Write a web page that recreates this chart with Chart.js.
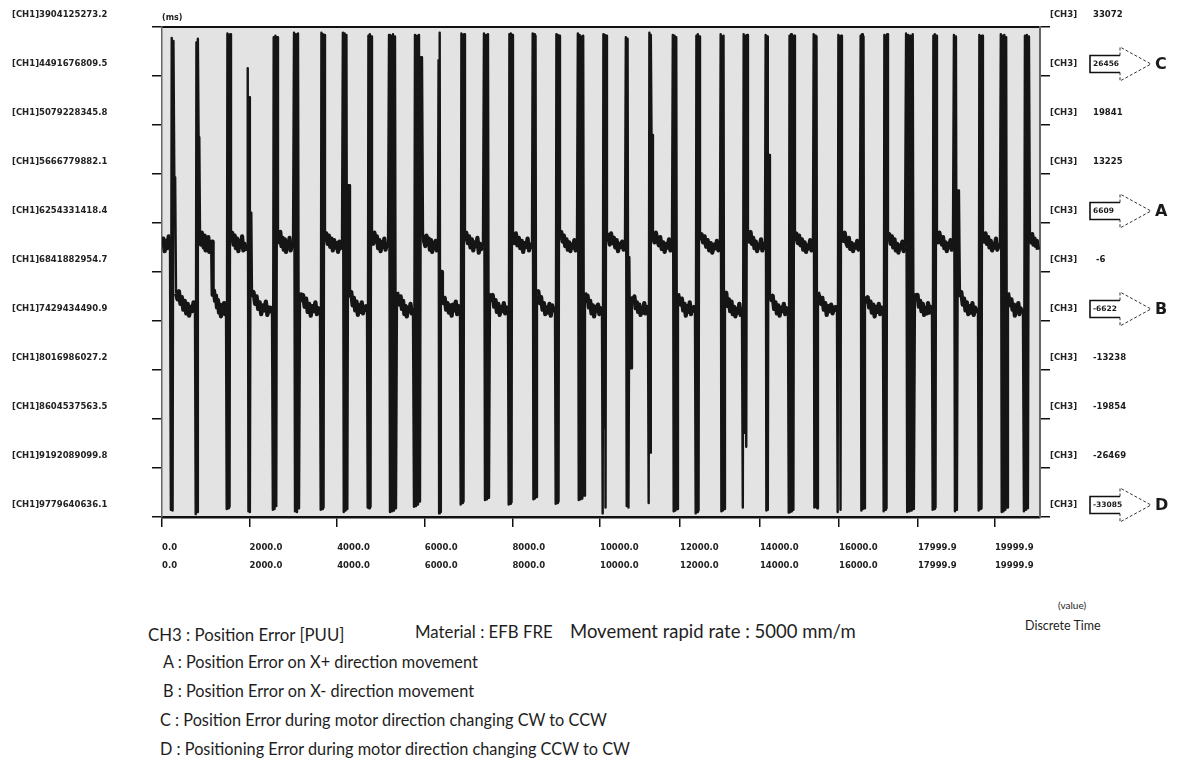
<!DOCTYPE html>
<html>
<head>
<meta charset="utf-8">
<title>CH3 Position Error</title>
<script src="https://cdn.jsdelivr.net/npm/chart.js@4.4.1/dist/chart.umd.min.js"></script>
<style>
  body { margin: 0; background: #fff; width: 1177px; height: 769px; overflow: hidden; position: relative;
         font-family: Lato, "Open Sans", sans-serif; color: #1e1e1e; }
  #wrap { position: absolute; left: 0; top: 0; width: 1177px; height: 590px; }
  .txt { position: absolute; white-space: nowrap; line-height: 1; }
</style>
</head>
<body>
<div id="wrap"><canvas id="chart" width="1177" height="590"></canvas></div>

<div class="txt" style="left:1058px;top:600px;font-size:10px">(value)</div>
<div class="txt" style="left:1025px;top:620px;font-size:12.5px">Discrete Time</div>

<div class="txt" style="left:148px;top:627px;font-size:16.8px">CH3 : Position Error [PUU]</div>
<div class="txt" style="left:415px;top:624px;font-size:16.8px">Material : EFB FRE</div>
<div class="txt" style="left:570px;top:622px;font-size:18.5px">Movement rapid rate : 5000 mm/m</div>
<div class="txt" style="left:163px;top:654px;font-size:16.3px">A : Position Error on X+ direction movement</div>
<div class="txt" style="left:163px;top:683px;font-size:16.3px">B : Position Error on X- direction movement</div>
<div class="txt" style="left:160px;top:712px;font-size:16.3px">C : Position Error during motor direction changing CW to CCW</div>
<div class="txt" style="left:160px;top:741px;font-size:16.3px">D : Positioning Error during motor direction changing CCW to CW</div>

<script>
// ---- axis labels ----
const ch1Ticks = [3904125273.2, 4491676809.5, 5079228345.8, 5666779882.1, 6254331418.4, 6841882954.7,
                  7429434490.9, 8016986027.2, 8604537563.5, 9192089099.8, 9779640636.1];
const ch3Ticks = [33072, 26456, 19841, 13225, 6609, -6, -6622, -13238, -19854, -26469, -33085];
const markValues = [26456, 6609, -6622, -33085];
const markLetters = ['C', 'A', 'B', 'D'];
// discrete time axis (ms), where each printed label sits on the trace
const xTickAt = [0, 2000, 4000, 6000, 8000, 10000, 11826, 13652, 15456, 17259, 19017];
const xTickText = ['0.0', '2000.0', '4000.0', '6000.0', '8000.0', '10000.0', '12000.0', '14000.0', '16000.0', '17999.9', '19999.9'];
const xEndMs = 20046;

// ---- CH3 trace (PUU) ----
// direction changes: start / end time of each sweep burst (ms)
const edgeStart = [183, 753, 1142, 1461, 1941, 2511, 2991, 3607, 4109, 4680, 5160, 5730, 6301,
                   6803, 7328, 7899, 8447, 8972, 9474, 10045, 10570, 11095, 11643, 12168, 12739,
                   13241, 13766, 14292, 14862, 15410, 15935, 16460, 16963, 17579, 18058, 18629,
                   19131, 19656];
const edgeEnd = [320, 868, 1164, 1575, 2055, 2648, 3151, 3721, 4292, 4794, 5365, 5959, 6392,
                 6917, 7488, 8013, 8561, 9086, 9657, 10159, 10730, 11209, 11780, 12283, 12853,
                 13378, 13880, 14451, 14976, 15524, 16049, 16575, 17191, 17693, 18218, 18743,
                 19314, 19816];
// values swept through during each burst
const edgeSweep = [
  [-32100, 31600, -32200, 31200, 12800, 12800],
  [-32700, 31000, -32400, 31500, 18200, 18200],
  [3000, -3100],
  [-32000, 32200, -31900, 32000, -31700, 32100],
  [27500, -32300, 23600, -32400, 8000, 8000],
  [-32100, 31700, -32000, 31900, -31600, 31700],
  [32300, -32300, 32100, -32400, 32200, -31900],
  [-32100, 32300, -32000, 32100, -31800, 32000],
  [32300, -32400, 32200, -32200, 32000, -32000, 11700, 11700],
  [-31800, 31900, -31900, 32100, -31700, 31800],
  [32000, -32400, 31900, -32300, 32100, -32200, 31800, -31900],
  [-31700, 32000, -31600, 31900, -31400, 32000, -31000, 29000, 29000],
  [28600, -32600, 32300, -32400, 0, 0],
  [-31400, 32200, -31200, 32000, -31000, 32100],
  [32200, -30800, 32000, -30700, 32100, -30500],
  [-31400, 32100, -31300, 32200, -31100, 32000],
  [32200, -30700, 32100, -30600, 31900, -30400],
  [-31300, 32100, -31200, 32000, -31000, 31900],
  [32200, -30800, 32000, -30700, 31800, -30600, 31900, -30200],
  [-32600, 32100, -21000, 32000, -31800, 31900],
  [31700, -31600, 31500, -31800, 2000, -13000, -13000],
  [-31200, 32300, -24400, 32000, 18500, 18500],
  [32000, -32300, 31900, -32200, 31700, -32000],
  [-32600, 31900, -32400, 32100, -32200, 31800],
  [32100, -32300, 31800, -32200, 31900, -32000],
  [-31800, 32100, -21700, 31900, -23600, 32000],
  [32000, -32200, 31800, -32100, 15800, 15800],
  [-32500, 31900, -32400, 32100, -32300, 31800, -32100, 31900],
  [32100, -31800, 31900, -31700, 31800, -31900],
  [-32400, 32000, -11600, 31800, -32100, 31900],
  [31900, -32200, 32100, -32000, 31800, -31900],
  [-32300, 32000, -32100, 31900, -31900, 32100],
  [32200, -32400, 32000, -32300, 31900, -32200, 32100, -32000],
  [-32100, 31900, -32000, 32100, -31800, 31900],
  [32000, -32300, 31800, -32100, 11000, 11000],
  [-32200, 32000, -32000, 31800, -31900, 31900],
  [32100, -32400, 31900, -32300, 32000, -32100, 31700, -31800],
  [-32300, 31900, -32100, 32000, -31900, 31800]
];
// noisy levels held between bursts (upper = X+ run, lower = X- run)
const plateauLevels = [
  [3500, 4500, 2800, 4200, 3200, 4800, 3000],
  [-2900, -3700, -2600, -4300, -3400, -5100, -3900, -5600, -4300, -5900, -4700, -5300, -4100, -5500],
  [4800, 3700, 5300, 4200, 3300, 4900, 2900, 4400, 3500, 4700, 2700, 3900, 3100, 4100],
  [-3000, -2500, -3900, -3200, -4800, -3800, -5500, -4400, -6000, -4700, -5400, -4200, -5700, -4000],
  [4600, 5300, 3700, 4900, 3200, 4500, 2800, 4200, 3400, 4800, 2900, 3800, 3100, 3600],
  [-3400, -2700, -4300, -3300, -5000, -4100, -5700, -4500, -5200, -4000, -5800, -4800, -5300, -4600],
  [4900, 4000, 5400, 3500, 4600, 3000, 4400, 2700, 4100, 3300, 4600, 2900, 3700, 3200],
  [-2800, -3800, -3100, -4700, -3600, -5400, -4300, -5900, -4600, -5300, -4100, -5700, -4900, -5200],
  [4200, 5200, 3800, 4900, 3400, 4500, 2900, 4300, 3300, 3900, 2700, 4100, 3200, 3600],
  [-3300, -2700, -4500, -3500, -5200, -4000, -5800, -4500, -5400, -4100, -5600, -4700, -5100, -4400],
  [4700, 3800, 5300, 4100, 4800, 3200, 4300, 2800, 4000, 3400, 4500, 3000, 3700, 3300],
  [-2700, -3500, -4400, -3300, -5000, -3900, -5700, -4600, -6000, -4800, -5300, -4300, -5600, -4900],
  [5000, 4100, 3500, 4900, 3800, 4500, 3000, 4300, 2700, 3900, 3300, 4200, 2900, 3500],
  [-3400, -4200, -3500, -5100, -4200, -5500, -4500, -5900, -4400, -5200, -4000, -5700, -4600, -5000],
  [4300, 5300, 3900, 4800, 3300, 4400, 2900, 4000, 3500, 4600, 2600, 3800, 3100, 3400],
  [-2900, -3800, -3100, -4700, -3800, -5400, -4300, -5800, -4700, -5300, -4200, -5600, -4800, -5100],
  [4800, 3900, 5200, 3600, 4600, 3200, 4200, 2700, 3900, 3400, 4500, 2900, 3700, 3100],
  [-3200, -2600, -4200, -3400, -5100, -4200, -5700, -4800, -5500, -4300, -5900, -4500, -5200, -4700],
  [4500, 5400, 4100, 4900, 3500, 4400, 3000, 4000, 2800, 3700, 3300, 4300, 2900, 3600],
  [-2800, -3900, -3200, -4800, -3900, -5600, -4500, -6000, -4700, -5200, -4400, -5700, -4900, -5300],
  [4200, 5000, 3700, 5200, 3900, 4600, 3300, 4300, 2800, 3800, 3400, 4100, 3000, 3300],
  [-3300, -4000, -3300, -4900, -4100, -5400, -4400, -5800, -4900, -5500, -4200, -5600, -4700, -5000],
  [4900, 4000, 5300, 4300, 3600, 4700, 3100, 4000, 2700, 3800, 3300, 4400, 2900, 3500],
  [-2900, -3700, -4400, -3600, -5200, -4300, -5900, -4600, -5400, -4100, -5700, -4800, -5200, -4500],
  [4400, 5100, 4000, 4800, 3400, 4300, 2900, 3900, 2600, 3700, 3200, 4200, 2900, 3400],
  [-3400, -2800, -4600, -3700, -5300, -4000, -5700, -4700, -6000, -5000, -5500, -4300, -5800, -4800],
  [4800, 4100, 5400, 3800, 4600, 3200, 4100, 2800, 3700, 3300, 4400, 2900, 3800, 3000],
  [-3000, -3800, -3200, -5000, -4100, -5600, -4500, -5900, -4800, -5300, -4300, -5700, -4900, -5200],
  [4300, 5200, 3900, 4900, 3600, 4400, 3000, 4000, 2700, 3600, 3200, 4300, 2900, 3500],
  [-2700, -3400, -4300, -3500, -5100, -4200, -5800, -4600, -5300, -4400, -5600, -4800, -5100, -4500],
  [5000, 4200, 5300, 4000, 3500, 4600, 3100, 3900, 2800, 3700, 3300, 4200, 3000, 3400],
  [-3300, -4000, -3400, -4800, -4000, -5500, -4400, -6000, -4700, -5400, -4300, -5700, -4800, -5300],
  [4700, 5100, 3800, 4800, 3300, 4400, 2900, 3800, 2600, 3600, 3200, 4100, 2800, 3300],
  [-2900, -3500, -3100, -4700, -3900, -5300, -4300, -5800, -4900, -5600, -4200, -5500, -4700, -5200],
  [4600, 4000, 5300, 4300, 3700, 4700, 3200, 4000, 2800, 3800, 3400, 4300, 3000, 3500],
  [-3400, -2700, -4400, -3600, -5200, -4100, -5700, -4600, -5500, -4200, -5800, -4800, -5300, -4900],
  [4900, 4100, 5200, 3800, 4700, 3300, 4200, 2900, 3800, 3300, 4500, 3000, 3600, 3200],
  [-2800, -3700, -4500, -3700, -5100, -4400, -5900, -4500, -5400, -4200, -5700, -4900, -5300, -5000],
  [4800, 4000, 5100, 3700, 4500, 3500, 4200, 3000]
];
const traceEndMs = 19999.9;

// lay the held levels and the bursts out along the time axis
function buildTrace() {
  const pts = [];
  let from = 0;
  for (let k = 0; k < plateauLevels.length; k++) {
    const to = k < edgeStart.length ? edgeStart[k] : traceEndMs;
    const lv = plateauLevels[k];
    lv.forEach((v, i) => pts.push({x: from + (to - from) * i / (lv.length - 1), y: v}));
    if (k < edgeStart.length) {
      const sw = edgeSweep[k];
      const a = edgeStart[k], b = edgeEnd[k];
      sw.forEach((v, i) => pts.push({x: a + (b - a) * (i + 1) / (sw.length + 1), y: v}));
      from = b;
    }
  }
  return pts;
}

const tickFont = {family: '"DejaVu Sans", sans-serif', size: 8.5, weight: 'bold'};

const plotBackground = {
  id: 'plotBackground',
  beforeDraw(chart) {
    const {ctx, chartArea: a} = chart;
    ctx.save();
    ctx.fillStyle = '#e3e3e3';
    ctx.fillRect(a.left, a.top, a.right - a.left, a.bottom - a.top);
    ctx.restore();
  }
};

// CH3 values beside the right axis, with the A-D callout arrows
const ch3Values = {
  id: 'ch3Values',
  afterDraw(chart) {
    const {ctx} = chart;
    const s = chart.scales.yR;
    const x0 = s.left + 50;
    ctx.save();
    ctx.textBaseline = 'middle';
    ch3Ticks.forEach(v => {
      const y = s.getPixelForValue(v) - 12;
      const m = markValues.indexOf(v);
      ctx.fillStyle = '#1a1a1a';
      if (m < 0) {
        ctx.font = 'bold 8.5px "DejaVu Sans"';
        ctx.textAlign = 'left';
        ctx.fillText(String(v), x0 + (String(v).length < 4 ? 6 : 3), y);
        return;
      }
      // arrow body
      ctx.setLineDash([]);
      ctx.strokeStyle = '#111';
      ctx.lineWidth = 1.6;
      ctx.beginPath();
      ctx.moveTo(x0 + 30, y - 8.5);
      ctx.lineTo(x0, y - 8.5);
      ctx.lineTo(x0, y + 8.5);
      ctx.lineTo(x0 + 30, y + 8.5);
      ctx.stroke();
      // arrow head
      ctx.setLineDash([3, 2]);
      ctx.strokeStyle = '#333';
      ctx.lineWidth = 1;
      ctx.beginPath();
      ctx.moveTo(x0 + 30, y - 8.5);
      ctx.lineTo(x0 + 30, y - 17);
      ctx.lineTo(x0 + 61, y);
      ctx.lineTo(x0 + 30, y + 17);
      ctx.lineTo(x0 + 30, y + 8.5);
      ctx.stroke();
      ctx.setLineDash([]);
      ctx.font = 'bold 7.5px "DejaVu Sans"';
      ctx.textAlign = 'left';
      ctx.fillText(String(v), x0 + 3, y);
      ctx.font = 'bold 16px "DejaVu Sans"';
      ctx.fillText(markLetters[m], x0 + 65, y + 1);
    });
    ctx.restore();
  }
};

// held levels are drawn heavier than the sweep bursts, like the scope trace
const heldLevel = ctx => Math.abs(ctx.p0.parsed.y) < 8000 && Math.abs(ctx.p1.parsed.y) < 8000;

new Chart(document.getElementById('chart'), {
  type: 'line',
  data: {
    datasets: [{
      label: 'CH3',
      data: buildTrace(),
      xAxisID: 'x',
      yAxisID: 'yR',
      borderColor: '#151515',
      borderWidth: 2.3,
      borderJoinStyle: 'round',
      pointRadius: 0,
      tension: 0,
      segment: {borderWidth: ctx => heldLevel(ctx) ? 4.2 : 2.4}
    }]
  },
  options: {
    responsive: false,
    animation: false,
    parsing: false,
    normalized: true,
    devicePixelRatio: 1,
    layout: {padding: {left: 12, right: 0, top: 0, bottom: 0}},
    plugins: {legend: {display: false}, tooltip: {enabled: false}},
    scales: {
      x: {
        type: 'linear', position: 'bottom', min: 0, max: xEndMs,
        afterBuildTicks: s => { s.ticks = xTickAt.map(v => ({value: v})); },
        afterFit: s => { s.height = 73; },
        ticks: {
          autoSkip: false, maxRotation: 0, align: 'start', padding: 12,
          font: Object.assign({lineHeight: 2.1}, tickFont), color: '#222',
          callback: (v, i) => [xTickText[i], xTickText[i]]
        },
        grid: {drawOnChartArea: false, tickLength: 10, color: '#111', lineWidth: 1.5},
        border: {display: true, color: '#111', width: 2.5}
      },
      xTop: {
        type: 'linear', position: 'top', min: 0, max: xEndMs,
        afterFit: s => { s.height = 27; },
        ticks: {display: false},
        grid: {drawOnChartArea: false, drawTicks: false},
        border: {display: true, color: '#111', width: 2},
        title: {display: true, text: '(ms)', align: 'start', color: '#222',
                font: {family: '"DejaVu Sans", sans-serif', size: 8, weight: 'bold'},
                padding: {top: 13, bottom: 0}}
      },
      yL: {
        type: 'linear', position: 'left', reverse: true,
        min: ch1Ticks[0], max: ch1Ticks[ch1Ticks.length - 1],
        afterBuildTicks: s => { s.ticks = ch1Ticks.map(v => ({value: v})); },
        afterFit: s => { s.width = 150; },
        ticks: {
          crossAlign: 'far', labelOffset: -12, font: tickFont, color: '#222',
          callback: v => '[CH1]' + v.toFixed(1)
        },
        grid: {drawOnChartArea: false, tickLength: 10, color: '#111', lineWidth: 1.5},
        border: {display: true, color: '#666', width: 1.5}
      },
      yR: {
        type: 'linear', position: 'right',
        min: ch3Ticks[ch3Ticks.length - 1], max: ch3Ticks[0],
        afterBuildTicks: s => { s.ticks = ch3Ticks.map(v => ({value: v})); },
        afterFit: s => { s.width = 137; },
        ticks: {
          labelOffset: -12, padding: 0, font: tickFont, color: '#222',
          callback: () => '[CH3]'
        },
        grid: {drawOnChartArea: false, tickLength: 10, color: '#111', lineWidth: 1.5},
        border: {display: true, color: '#666', width: 2}
      }
    }
  },
  plugins: [plotBackground, ch3Values]
});
</script>
</body>
</html>
